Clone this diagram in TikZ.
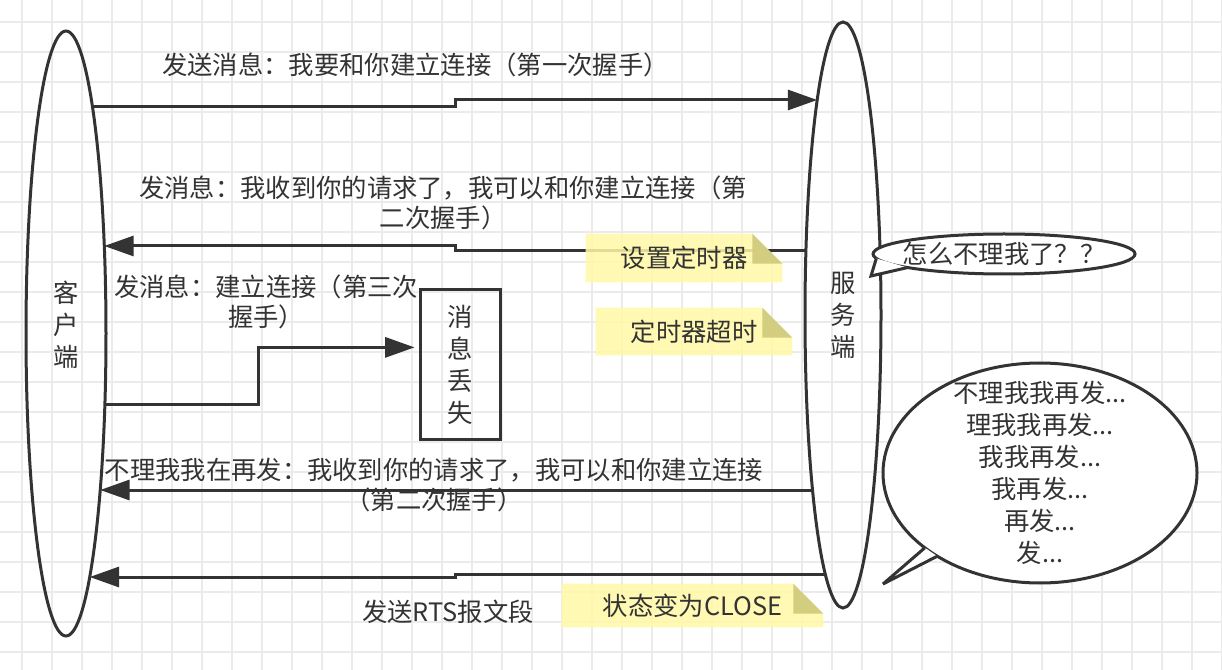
\documentclass[tikz,border=0pt]{standalone}
\usepackage{fontspec}
\setmainfont{Noto Sans CJK SC}
\usetikzlibrary{arrows.meta, shapes.geometric, calc}
\definecolor{cdark}{HTML}{333333}
\definecolor{cgrid}{HTML}{EBEBEB}
\definecolor{cnote}{HTML}{FFF9A7}
\definecolor{cfold}{HTML}{D3CD80}
\pgfdeclarelayer{grid}
\pgfdeclarelayer{paper}
\pgfdeclarelayer{top}
\pgfsetlayers{grid,main,paper,top}
\newcommand\foldsz{22.5pt}
\tikzset{
  every node/.style={text=cdark, font=\fontsize{19}{22.5}\selectfont},
  party/.style={ellipse, draw=cdark, line width=2.25pt, inner sep=0pt, outer sep=0pt, align=center,
    font=\fontsize{19}{24}\selectfont},
  arrow/.style={-{Triangle[length=22pt, width=15pt]}, draw=cdark, line width=2.25pt},
  msg/.style={align=center, inner sep=0pt},
  note/.style={inner sep=0pt, minimum height=36pt},
  callout/.style={ellipse, draw=cdark, fill=white, line width=2.25pt, inner sep=0pt, outer sep=0pt, align=center},
  tail/.style={draw=cdark, line width=2.25pt, miter limit=2},
  gridline/.style={draw=cgrid, line width=1.2pt},
}

\begin{document}
\begin{tikzpicture}[x=0.75pt, y=-0.75pt]
  \useasboundingbox (0,0) rectangle (1222,670);
  \begin{pgfonlayer}{grid}
    \fill[white] (0,0) rectangle (1222,670);
    \foreach \gx in {22,52,...,1222} \draw[gridline] (\gx,0) -- (\gx,670);
    \foreach \gy in {22,52,...,652} \draw[gridline] (0,\gy) -- (1222,\gy);
  \end{pgfonlayer}

  % client, server and the lost packet
  \node[party, minimum width=60pt, minimum height=453.75pt] (client) at (66,333.5) {客\\户\\端\\[-9pt]};
  \node[party, minimum width=57pt, minimum height=439.5pt] (server) at (843,315) {服\\务\\端};
  \node[draw=cdark, line width=2.25pt, minimum width=60pt, minimum height=112.5pt, inner sep=0pt, align=center,
    font=\fontsize{19}{24}\selectfont] (lost) at (460,365) {消\\息\\丢\\失};

  % where the messages leave and reach the two ellipses
  \coordinate (c1) at ($(client.center)+(26.5,-226.5)$);
  \coordinate (c2) at ($(client.center)+(38.3,-87.5)$);
  \coordinate (c3) at ($(client.center)+(38.9,71.5)$);
  \coordinate (c4) at ($(client.center)+(34.2,156.5)$);
  \coordinate (c5) at ($(client.center)+(23.7,243.5)$);
  \coordinate (s1) at ($(server.center)+(-25.8,-215)$);
  \coordinate (s2) at ($(server.center)+(-37.1,-64)$);
  \coordinate (s4) at ($(server.center)+(-30.5,175)$);
  \coordinate (s5) at ($(server.center)+(-17.8,259)$);

  \draw[arrow] (c1) -- ++(362.5,0) |- (s1);
  \draw[arrow] (s2) -- ++(-350.9,0) |- (c2);
  \draw[arrow, shorten >=3pt] (c3) -- ++(153.1,0) |- (lost.157);
  \draw[arrow] (s4) -- (c4);
  \draw[arrow] (s5) -- ++(-370.2,0) |- (c5);

  \node[msg] (m1) at (415.5,65) {发送消息：我要和你建立连接（第一次握手）};
  \node[msg] (m2) at (443,203) {发消息：我收到你的请求了，我可以和你建立连接（第\\二次握手）};
  \node[msg] (m3) at (266,302) {发消息：建立连接（第三次\\握手）};
  \node[msg] (m4) at (434,485) {不理我我在再发：我收到你的请求了，我可以和你建立连接\\（第二次握手）};
  \node[msg] (m5) at (448,612) {发送RTS报文段};

  % sticky notes
  \begin{pgfonlayer}{top}
    \node[note, minimum width=147pt] (timer) at (684,258) {设置定时器};
    \node[note, minimum width=147pt, minimum height=35.25pt] (timeout) at (694,331.5) {定时器超时};
    \node[note, minimum width=195.75pt, minimum height=32.25pt] (closed) at (692.5,605.5) {状态变为CLOSE};
  \end{pgfonlayer}
  \begin{pgfonlayer}{paper}
    \foreach \n in {timer, timeout, closed} {
      \fill[cnote, fill opacity=.85] (\n.south west) -- (\n.north west) -- ([xshift=-\foldsz]\n.north east)
        -- ([yshift=-\foldsz]\n.north east) -- (\n.south east) -- cycle;
      \fill[cfold] ([xshift=-\foldsz]\n.north east) -- ([xshift=-\foldsz, yshift=-\foldsz]\n.north east)
        -- ([yshift=-\foldsz]\n.north east) -- cycle;
    }
  \end{pgfonlayer}

  % speech bubbles of the server
  \node[callout, minimum width=196.5pt, minimum height=30pt, inner xsep=-8pt] (ask) at (1004,254) {怎么不理我了？？};
  \coordinate (ask-tip) at (871,276);
  \fill[white] (ask.182.7) -- (ask-tip) -- (ask.188.5) -- cycle;
  \draw[tail] (ask.182.7) -- (ask-tip) -- (ask.188.5);

  \node[callout, minimum width=235.5pt, minimum height=165pt, inner ysep=-12pt,
    font=\fontsize{19}{24}\selectfont] (talk) at (1040,473)
    {不理我我再发...\\理我我再发...\\我我再发...\\我再发...\\再发...\\发...};
  \coordinate (talk-tip) at (883,584);
  \fill[white] (talk.213.8) -- (talk-tip) -- (talk.219.6) -- cycle;
  \draw[tail] (talk.213.8) -- (talk-tip) -- (talk.219.6);
\end{tikzpicture}
\end{document}
